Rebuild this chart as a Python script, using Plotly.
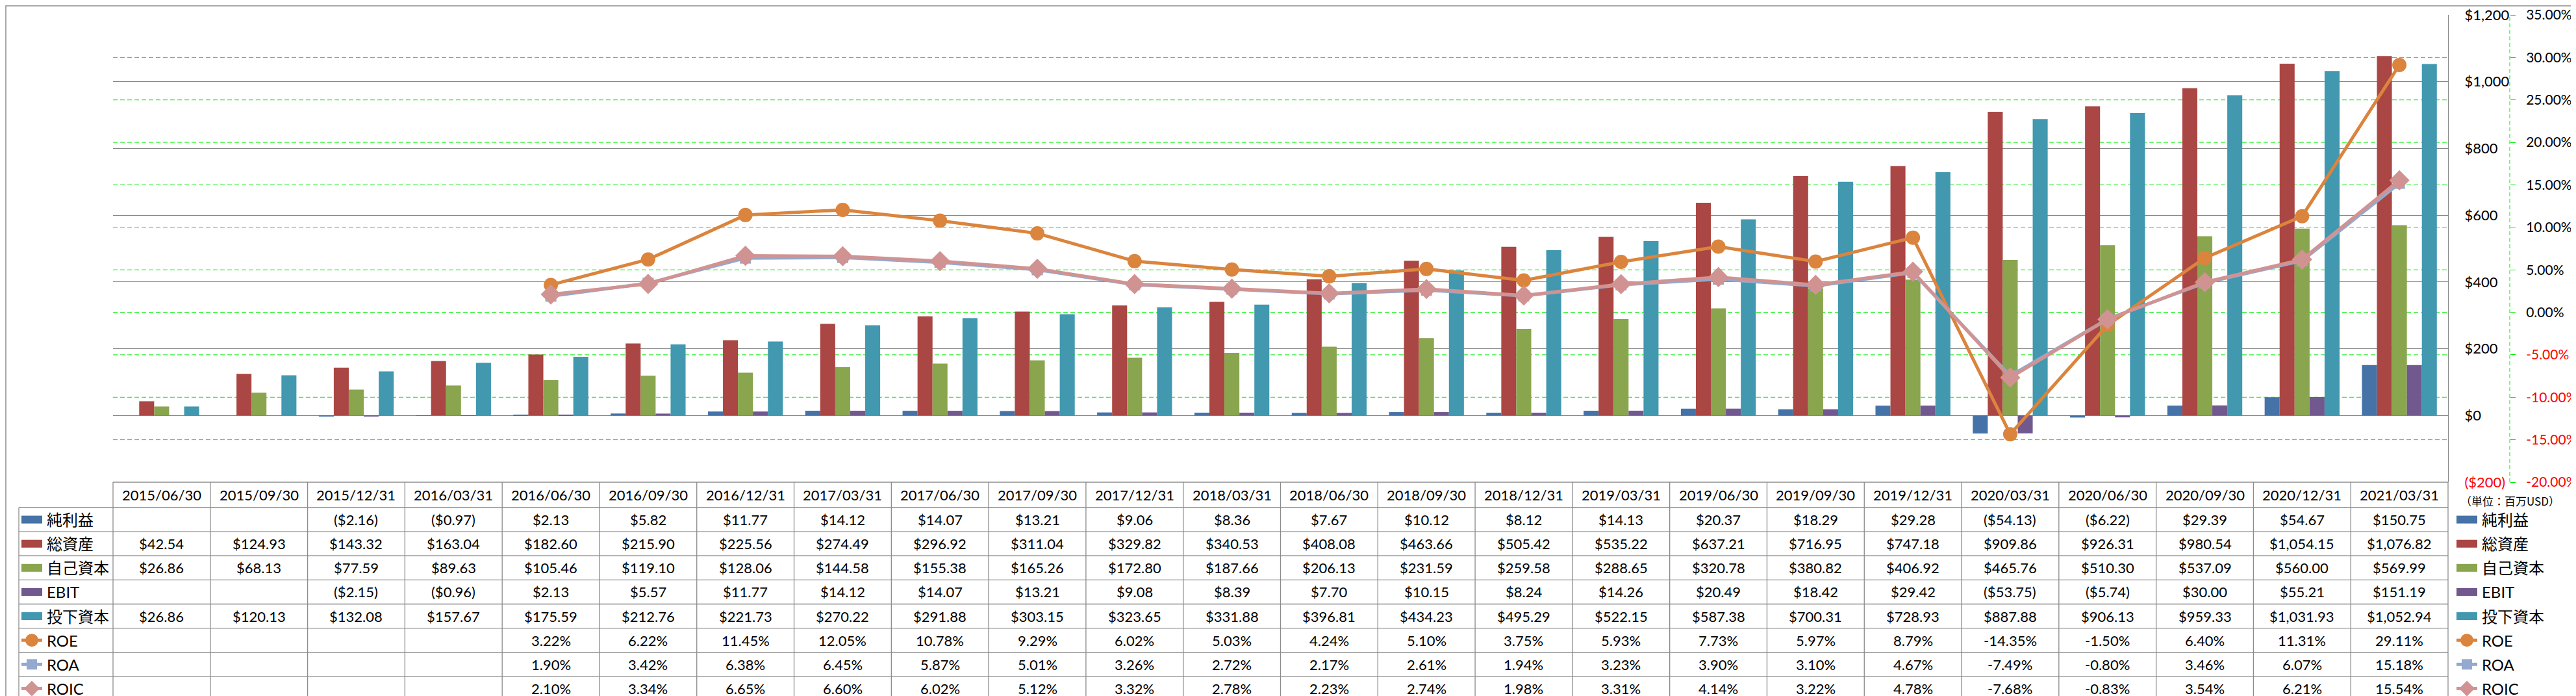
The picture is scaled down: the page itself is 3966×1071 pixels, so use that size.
import plotly.graph_objects as go

# ---------------- data ----------------
dates = ["2015/06/30", "2015/09/30", "2015/12/31", "2016/03/31", "2016/06/30", "2016/09/30",
         "2016/12/31", "2017/03/31", "2017/06/30", "2017/09/30", "2017/12/31", "2018/03/31",
         "2018/06/30", "2018/09/30", "2018/12/31", "2019/03/31", "2019/06/30", "2019/09/30",
         "2019/12/31", "2020/03/31", "2020/06/30", "2020/09/30", "2020/12/31", "2021/03/31"]

net_income = [None, None, -2.16, -0.97, 2.13, 5.82, 11.77, 14.12, 14.07, 13.21, 9.06, 8.36,
              7.67, 10.12, 8.12, 14.13, 20.37, 18.29, 29.28, -54.13, -6.22, 29.39, 54.67, 150.75]
total_assets = [42.54, 124.93, 143.32, 163.04, 182.60, 215.90, 225.56, 274.49, 296.92, 311.04,
                329.82, 340.53, 408.08, 463.66, 505.42, 535.22, 637.21, 716.95, 747.18, 909.86,
                926.31, 980.54, 1054.15, 1076.82]
equity = [26.86, 68.13, 77.59, 89.63, 105.46, 119.10, 128.06, 144.58, 155.38, 165.26, 172.80,
          187.66, 206.13, 231.59, 259.58, 288.65, 320.78, 380.82, 406.92, 465.76, 510.30,
          537.09, 560.00, 569.99]
ebit = [None, None, -2.15, -0.96, 2.13, 5.57, 11.77, 14.12, 14.07, 13.21, 9.08, 8.39, 7.70,
        10.15, 8.24, 14.26, 20.49, 18.42, 29.42, -53.75, -5.74, 30.00, 55.21, 151.19]
invested_capital = [26.86, 120.13, 132.08, 157.67, 175.59, 212.76, 221.73, 270.22, 291.88,
                    303.15, 323.65, 331.88, 396.81, 434.23, 495.29, 522.15, 587.38, 700.31,
                    728.93, 887.88, 906.13, 959.33, 1031.93, 1052.94]
roe = [None, None, None, None, 3.22, 6.22, 11.45, 12.05, 10.78, 9.29, 6.02, 5.03, 4.24, 5.10,
       3.75, 5.93, 7.73, 5.97, 8.79, -14.35, -1.50, 6.40, 11.31, 29.11]
roa = [None, None, None, None, 1.90, 3.42, 6.38, 6.45, 5.87, 5.01, 3.26, 2.72, 2.17, 2.61,
       1.94, 3.23, 3.90, 3.10, 4.67, -7.49, -0.80, 3.46, 6.07, 15.18]
roic = [None, None, None, None, 2.10, 3.34, 6.65, 6.60, 6.02, 5.12, 3.32, 2.78, 2.23, 2.74,
        1.98, 3.31, 4.14, 3.22, 4.78, -7.68, -0.83, 3.54, 6.21, 15.54]

usd_ticks = [-200, 0, 200, 400, 600, 800, 1000, 1200]
pct_ticks = [-20, -15, -10, -5, 0, 5, 10, 15, 20, 25, 30, 35]
unit_label = "（単位：百万USD）"

bar_names = ["純利益", "総資産", "自己資本", "EBIT", "投下資本"]
bar_values = [net_income, total_assets, equity, ebit, invested_capital]
line_names = ["ROE", "ROA", "ROIC"]
line_values = [roe, roa, roic]

# ---------------- styles ----------------
bar_colors = ["#4572A7", "#AA4643", "#89A54E", "#71588F", "#4198AF"]
line_colors = ["#DB843D", "#93A9CF", "#D19392"]
line_symbols = ["circle", "square", "diamond"]
line_msizes = [22, 17, 24]

FONT = "Lato, 'Noto Sans CJK JP', sans-serif"
JFONT = "'Noto Sans CJK JP', sans-serif"
GRID = "#868686"
TBL = "#8C8C8C"
LIME = "#00EE00"
RED = "#FF0000"

W, H = 3966, 1071
PL, PR, AX2, PT, PB = 166, 3761, 3856, 15, 734   # plot left/right, 2nd axis x, top, bottom
TBL_BOTTOM = 1070
HEADER_BOTTOM = 773
LEG_LEFT = 21
RIGHT_LEG = 3774


def xp(px):
    return (px - PL) / (AX2 - PL)


def yp(py):
    return (PB - py) / (PB - PT)


def money(v, dec=2):
    s = ("${:,.%df}" % dec).format(abs(v))
    return "(" + s + ")" if v < 0 else s


def pct(v):
    return "{:.2f}%".format(v)


fig = go.Figure()

for name, vals, col in zip(bar_names, bar_values, bar_colors):
    fig.add_trace(go.Bar(x=dates, y=vals, name=name, marker=dict(color=col, line=dict(width=0)),
                         showlegend=False, yaxis="y"))

for name, vals, col, sym, ms in zip(line_names, line_values, line_colors, line_symbols, line_msizes):
    fig.add_trace(go.Scatter(x=dates, y=vals, name=name, mode="lines+markers",
                             line=dict(color=col, width=5),
                             marker=dict(symbol=sym, size=ms, color=col, line=dict(width=0)),
                             showlegend=False, yaxis="y2"))

x_dom_end = (PR - PL) / (AX2 - PL)

usd_text = []
for v in usd_ticks:
    t = money(v, 0)
    usd_text.append("<span style='color:%s'>%s</span>" % (RED, t) if v < 0 else t)
pct_text = []
for v in pct_ticks:
    t = pct(v)
    pct_text.append("<span style='color:%s'>%s</span>" % (RED, t) if v < 0 else t)

fig.update_layout(
    width=W, height=H,
    margin=dict(l=PL, r=W - AX2, t=PT, b=H - PB, pad=0, autoexpand=False),
    paper_bgcolor="white", plot_bgcolor="white",
    barmode="group", bargap=0.23, bargroupgap=0,
    xaxis=dict(domain=[0, x_dom_end], type="category", range=[-0.5, len(dates) - 0.5],
               showticklabels=False, ticks="", showgrid=False, zeroline=False, showline=False),
    yaxis=dict(side="right", anchor="x", range=[-200, 1200], tickvals=usd_ticks, ticktext=usd_text,
               showgrid=True, gridcolor=GRID, gridwidth=1, zeroline=False,
               showline=True, linecolor=GRID, linewidth=1, ticks="", ticklabelstandoff=20,
               tickfont=dict(family=FONT, size=22, color="black")),
    yaxis2=dict(overlaying="y", side="right", anchor="free", position=1, range=[-20, 35],
                tickvals=pct_ticks, ticktext=pct_text, showgrid=False, zeroline=False,
                showline=False, ticks="outside", ticklen=8, tickwidth=1, tickcolor=LIME,
                ticklabelstandoff=12, tickfont=dict(family=FONT, size=21, color="black")),
    font=dict(family=FONT, size=22, color="black"),
)

shapes = []
annotations = []

# green dashed gridlines for the percentage axis
for v in pct_ticks[1:-1]:
    shapes.append(dict(type="line", xref="paper", yref="y2", x0=0, x1=x_dom_end, y0=v, y1=v,
                       line=dict(color=LIME, width=1, dash="7px,4px"), layer="between"))
# green dashed secondary axis line
shapes.append(dict(type="line", xref="paper", yref="paper", x0=1, x1=1, y0=0, y1=1,
                   line=dict(color=LIME, width=1, dash="6px,4px")))

# outer chart border
shapes.append(dict(type="rect", xref="paper", yref="paper", x0=xp(1), x1=xp(W - 1),
                   y0=yp(1), y1=yp(TBL_BOTTOM), line=dict(color=TBL, width=1.5)))

# ---------------- data table ----------------
n = len(dates)
col_w = (PR - PL) / n
rows = bar_names + line_names
row_h = (TBL_BOTTOM - HEADER_BOTTOM) / len(rows)

shapes.append(dict(type="line", xref="paper", yref="paper", x0=xp(PL), x1=xp(PR), y0=yp(PB), y1=yp(PB),
                   line=dict(color=TBL, width=1.3)))
for k in range(len(rows) + 1):
    yy = HEADER_BOTTOM + k * row_h
    shapes.append(dict(type="line", xref="paper", yref="paper", x0=xp(LEG_LEFT), x1=xp(PR),
                       y0=yp(yy), y1=yp(yy), line=dict(color=TBL, width=1.3)))
shapes.append(dict(type="line", xref="paper", yref="paper", x0=xp(LEG_LEFT), x1=xp(LEG_LEFT),
                   y0=yp(HEADER_BOTTOM), y1=yp(TBL_BOTTOM), line=dict(color=TBL, width=1.3)))
for i in range(n + 1):
    xx = PL + i * col_w
    shapes.append(dict(type="line", xref="paper", yref="paper", x0=xp(xx), x1=xp(xx),
                       y0=yp(PB), y1=yp(TBL_BOTTOM), line=dict(color=TBL, width=1.3)))

for d in dates:
    annotations.append(dict(x=d, xref="x", y=yp((PB + HEADER_BOTTOM) / 2), yref="paper",
                            text=d, showarrow=False, xanchor="center", yanchor="middle",
                            font=dict(family=FONT, size=22, color="black")))

all_values = bar_values + line_values
for r, vals in enumerate(all_values):
    yc = HEADER_BOTTOM + (r + 0.5) * row_h
    for d, v in zip(dates, vals):
        if v is None:
            continue
        txt = money(v) if r < len(bar_values) else pct(v)
        annotations.append(dict(x=d, xref="x", y=yp(yc), yref="paper", text=txt,
                                showarrow=False, xanchor="center", yanchor="middle",
                                font=dict(family=FONT, size=22, color="black")))


def legend_key(x_left, yc, idx):
    xs0, xs1 = x_left, x_left + 32
    if idx < len(bar_names):
        shapes.append(dict(type="rect", xref="paper", yref="paper", x0=xp(xs0), x1=xp(xs1),
                           y0=yp(yc - 6), y1=yp(yc + 6), fillcolor=bar_colors[idx],
                           line=dict(width=0)))
    else:
        j = idx - len(bar_names)
        col = line_colors[j]
        shapes.append(dict(type="line", xref="paper", yref="paper", x0=xp(xs0), x1=xp(xs1),
                           y0=yp(yc), y1=yp(yc), line=dict(color=col, width=5)))
        cx, cy = xp((xs0 + xs1) / 2), yp(yc)
        base = dict(xref="paper", yref="paper", xsizemode="pixel", ysizemode="pixel",
                    xanchor=cx, yanchor=cy, fillcolor=col, line=dict(width=0))
        if line_symbols[j] == "circle":
            shapes.append(dict(type="circle", x0=-10, x1=10, y0=-10, y1=10, **base))
        elif line_symbols[j] == "square":
            shapes.append(dict(type="rect", x0=-8, x1=8, y0=-8, y1=8, **base))
        else:
            shapes.append(dict(type="path", path="M0,-12L12,0L0,12L-12,0Z", **base))


for r, name in enumerate(rows):
    yc = HEADER_BOTTOM + (r + 0.5) * row_h
    for x_left in (LEG_LEFT + 4, RIGHT_LEG):
        legend_key(x_left, yc, r)
        annotations.append(dict(x=xp(x_left + 37), xref="paper", y=yp(yc), yref="paper",
                                text=name, showarrow=False, xanchor="left", yanchor="middle",
                                font=dict(family=FONT, size=24, color="black")))

annotations.append(dict(x=xp(3778), xref="paper", y=yp(762), yref="paper", text=unit_label,
                        showarrow=False, xanchor="left", yanchor="middle",
                        font=dict(family=JFONT, size=17, color="black")))

fig.update_layout(shapes=shapes, annotations=annotations)

fig.write_html("out.html")
